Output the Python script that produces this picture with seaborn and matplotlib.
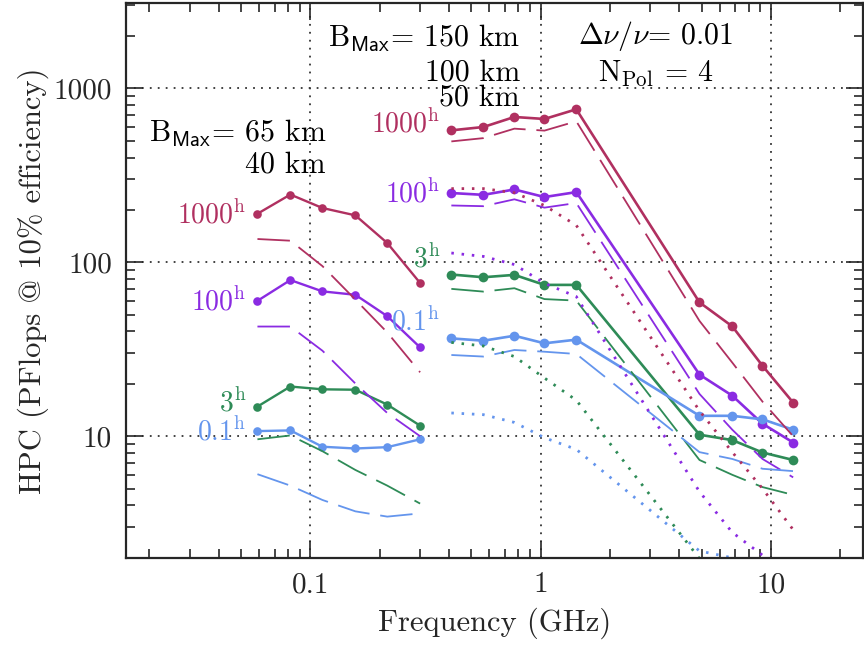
import matplotlib
matplotlib.use("Agg")
import matplotlib.pyplot as plt
from matplotlib import ticker
import pandas as pd
import seaborn as sns

# frequency channels (GHz) of the two groups
freq_low = [0.059, 0.082, 0.113, 0.157, 0.216, 0.30]
freq_high = [0.41, 0.565, 0.77, 1.04, 1.43, 4.9, 6.8, 9.2, 12.5]

obs_times = ["1000h", "100h", "3h", "0.1h"]
time_labels = [r"1000$^{\rm h}$", r"100$^{\rm h}$", r"3$^{\rm h}$", r"0.1$^{\rm h}$"]
colors = ["#B03060", "#8A2BE2", "#2E8B57", "#6495ED"]

# HPC (PFlops) per observing time, rows follow obs_times
hpc_65km = [
    [190, 245, 205, 186, 129, 76],
    [60, 79, 68, 65, 49, 32.4],
    [14.8, 19.3, 18.6, 18.5, 15.2, 11.5],
    [10.7, 10.8, 8.7, 8.5, 8.65, 9.6],
]
hpc_40km = [
    [136, 133, 95, 61, 39.5, 23.3],
    [42.7, 42.7, 31, 20.1, 13.6, 10.0],
    [9.6, 10.1, 8.2, 6.4, 5.2, 4.1],
    [6.05, 5.2, 4.3, 3.7, 3.45, 3.6],
]
hpc_150km = [
    [573, 599, 684, 666, 757, 58.8, 42.8, 25.4, 15.6],
    [250, 244, 262, 237, 253, 22.6, 17.1, 11.8, 9.2],
    [85, 82, 84.6, 74.1, 74.1, 10.2, 9.5, 8.06, 7.3],
    [36.5, 35.4, 37.8, 34.2, 35.9, 13.1, 13.1, 12.5, 10.9],
]
hpc_100km = [
    [495, 517, 586, 571, 646, 46, 26.5, 15.8, 10.0],
    [212, 210, 230, 206, 219, 17.5, 10.9, 7.4, 5.8],
    [70.3, 67.8, 70.9, 61.4, 60.2, 7.3, 6.0, 5.1, 4.6],
    [29.3, 28.7, 31.3, 30.6, 29.7, 8.1, 7.4, 6.5, 6.3],
]
hpc_50km = [
    [265, 265, 251, 212, 163, 14.0, 8.1, 5.0, 2.9],
    [113, 108, 97, 75.7, 63.5, 4.8, 2.8, 2.07, 1.5],
    [34.6, 33.0, 28.7, 21.6, 16.1, 1.98, 1.1, 0.7, 0.45],
    [13.6, 13.3, 12.0, 9.8, 8.4, 2.19, 2.0, 1.8, 1.6],
]

sns.set_style("ticks")
plt.rcParams["font.family"] = ["cmr10", "DejaVu Serif"]
plt.rcParams["mathtext.fontset"] = "cm"
plt.rcParams["axes.formatter.use_mathtext"] = True
plt.rcParams["axes.unicode_minus"] = False

palette = dict(zip(obs_times, colors))


def long_table(freqs, table, name):
    rows = []
    for t, vals in zip(obs_times, table):
        for f, v in zip(freqs, vals):
            rows.append({"freq": f, "hpc": v, "time": t, "group": name})
    return pd.DataFrame(rows)


fig, ax = plt.subplots(figsize=(8.64, 6.45), dpi=100)
fig.subplots_adjust(left=0.1458, right=0.9988, bottom=0.1349, top=0.9953)
ax.set_xscale("log")
ax.set_yscale("log")

layers = [
    (freq_low, hpc_65km, "65km", dict(lw=1.7, marker="o", markersize=6.2, markeredgewidth=0)),
    (freq_low, hpc_40km, "40km", dict(lw=1.3, linestyle=(0, (18, 6)))),
    (freq_high, hpc_150km, "150km", dict(lw=1.9, marker="o", markersize=7.0, markeredgewidth=0)),
    (freq_high, hpc_100km, "100km", dict(lw=1.3, linestyle=(0, (18, 6)))),
    (freq_high, hpc_50km, "50km", dict(lw=2.0, linestyle=(0, (0.9, 2.8)))),
]
for freqs, table, name, kws in layers:
    df = long_table(freqs, table, name)
    sns.lineplot(data=df, x="freq", y="hpc", hue="time", palette=palette,
                 estimator=None, sort=True, legend=False, ax=ax, **kws)

ax.set_xlim(10 ** -1.8, 10 ** 1.4)
ax.set_ylim(10 ** 0.3, 10 ** 3.49)

ax.xaxis.set_major_locator(ticker.LogLocator(base=10))
ax.yaxis.set_major_locator(ticker.LogLocator(base=10))
fmt = ticker.FuncFormatter(lambda v, p: f"{v:g}")
ax.xaxis.set_major_formatter(fmt)
ax.yaxis.set_major_formatter(fmt)
ax.xaxis.set_minor_formatter(ticker.NullFormatter())
ax.yaxis.set_minor_formatter(ticker.NullFormatter())

ax.grid(True, which="major", color="0.2", lw=1.3, linestyle=(0, (1.0, 3.4)))
ax.set_axisbelow(True)
ax.tick_params(which="both", direction="in", top=True, right=True, width=1.2,
               color="0.15", labelsize=21, pad=10)
ax.tick_params(which="major", length=12)
ax.tick_params(which="minor", length=6.5)
for sp in ax.spines.values():
    sp.set_linewidth(1.6)
    sp.set_color("0.15")

ax.set_xlabel("Frequency (GHz)", fontsize=22, labelpad=7)
ax.set_ylabel("HPC (PFlops @ 10% efficiency)", fontsize=22, labelpad=3)

# header annotations
hdr = dict(transform=ax.transAxes, fontsize=21.5, color="black")
ax.text(0.5346, 0.921, r"B$_{\mathsf{Max}}$= 150 km", ha="right", va="baseline", **hdr)
ax.text(0.5346, 0.861, "100 km", ha="right", va="baseline", **hdr)
ax.text(0.5346, 0.816, "50 km", ha="right", va="baseline", **hdr)
ax.text(0.719, 0.926, r"$\Delta\nu/\nu$= 0.01", ha="center", va="baseline", **hdr)
ax.text(0.719, 0.858, r"N$_{\rm Pol}$ = 4", ha="center", va="baseline", **hdr)
ax.text(0.2714, 0.7495, r"B$_{\mathsf{Max}}$= 65 km", ha="right", va="baseline", **hdr)
ax.text(0.2714, 0.6955, "40 km", ha="right", va="baseline", **hdr)

# curve labels
left_y = [167, 52.7, 13.9, 9.41]
right_y = [558, 221, 93.2, 40.4]
for lab, c, yl, yr in zip(time_labels, colors, left_y, right_y):
    ax.text(0.0527, yl, lab, color=c, fontsize=20, ha="right", va="baseline")
    ax.text(0.367, yr, lab, color=c, fontsize=20, ha="right", va="baseline")

fig.savefig("out.png", dpi=100)
